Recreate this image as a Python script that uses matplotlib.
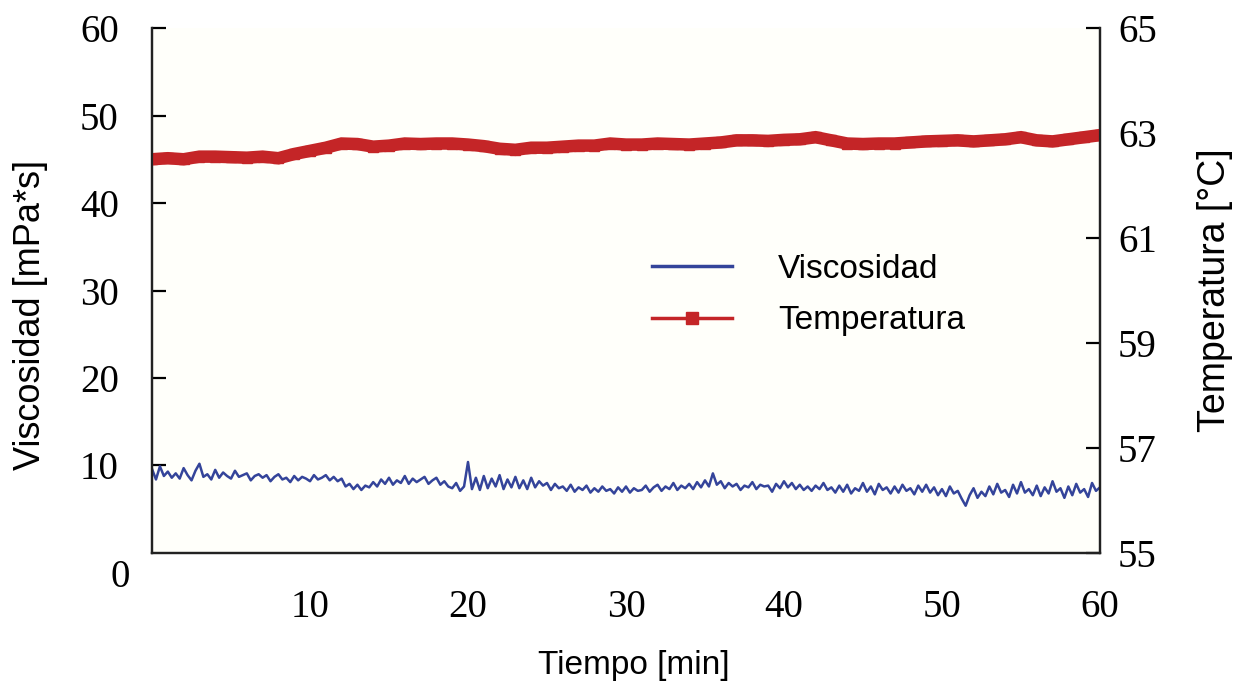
import matplotlib
matplotlib.use("Agg")
import matplotlib.pyplot as plt
import numpy as np

# Tiempo [min] for each series
temp_time = list(range(0, 61))
temperatura = [62.50, 62.52, 62.50, 62.55, 62.55, 62.54, 62.53, 62.55, 62.52, 62.60,
               62.66, 62.72, 62.80, 62.79, 62.74, 62.76, 62.80, 62.79, 62.80, 62.80,
               62.78, 62.75, 62.70, 62.68, 62.72, 62.72, 62.74, 62.76, 62.76, 62.80,
               62.78, 62.78, 62.80, 62.79, 62.78, 62.80, 62.82, 62.86, 62.86, 62.85,
               62.87, 62.88, 62.92, 62.86, 62.80, 62.79, 62.80, 62.80, 62.82, 62.84,
               62.85, 62.86, 62.84, 62.86, 62.88, 62.92, 62.86, 62.84, 62.88, 62.92,
               62.96]

# viscosity sampled every 0.25 min
visc_time = [i / 4 for i in range(241)]
viscosidad = [
    9.6, 8.4, 9.9, 8.8, 9.3, 8.6, 9.1, 8.5, 9.7, 8.9, 8.3, 9.4,
    10.2, 8.7, 9.0, 8.4, 9.5, 8.6, 9.2, 8.8, 8.5, 9.4, 8.7, 8.9,
    9.1, 8.3, 8.8, 9.0, 8.6, 8.9, 8.2, 8.7, 9.0, 8.4, 8.6, 8.1,
    8.8, 8.3, 8.7, 8.5, 8.2, 8.9, 8.4, 8.6, 8.9, 8.3, 8.7, 8.2,
    8.5, 7.6, 7.9, 7.3, 7.8, 7.2, 7.7, 7.5, 8.1, 7.6, 8.4, 7.9,
    8.6, 7.8, 8.3, 8.0, 8.8, 7.9, 8.5, 8.1, 8.4, 8.7, 7.9, 8.3,
    8.6, 7.8, 8.2, 7.6, 7.4, 8.0, 7.1, 7.6, 10.4, 7.3, 8.6, 7.2,
    8.8, 7.4, 8.5, 7.6, 8.9, 7.3, 8.4, 7.5, 8.7, 7.4, 8.3, 7.3,
    8.6, 7.5, 8.2, 7.7, 8.0, 7.2, 7.9, 7.4, 7.6, 7.1, 7.8, 7.0,
    7.5, 7.2, 7.7, 6.9, 7.4, 7.0, 7.6, 7.1, 7.3, 6.8, 7.5, 7.0,
    7.6, 6.9, 7.4, 7.1, 7.2, 7.7, 7.0, 7.5, 7.8, 7.1, 7.6, 7.3,
    8.0, 7.2, 7.7, 7.4, 7.9, 7.3, 8.1, 7.5, 8.3, 7.6, 9.1, 7.8,
    8.2, 7.4, 8.0, 7.6, 7.9, 7.2, 7.7, 7.5, 8.1, 7.3, 7.8, 7.6,
    7.7, 7.0, 7.9, 7.4, 8.2, 7.5, 8.0, 7.3, 7.8, 7.2, 7.6, 7.1,
    7.7, 7.3, 8.0, 7.2, 7.5, 6.9, 7.7, 7.0, 7.8, 6.8, 7.4, 7.1,
    8.0, 7.0, 7.6, 6.7, 7.9, 7.2, 7.5, 6.8, 7.6, 6.9, 7.8, 7.1,
    7.4, 6.7, 7.7, 7.0, 7.8, 6.9, 7.5, 6.6, 7.3, 6.5, 7.6, 6.8,
    7.1, 6.2, 5.4, 6.6, 7.4, 6.3, 7.0, 6.5, 7.6, 6.7, 7.9, 6.9,
    7.2, 6.4, 7.8, 6.8, 8.1, 6.9, 7.3, 6.6, 7.7, 6.5, 7.5, 6.8,
    8.2, 7.0, 7.4, 6.3, 7.6, 6.6, 7.9, 6.9, 7.3, 6.4, 8.0, 7.1,
    7.5]

x_ticks = [10, 20, 30, 40, 50, 60]
left_ticks = [10, 20, 30, 40, 50, 60]
right_ticks = [55, 57, 59, 61, 63, 65]

blue = '#34449a'
red = '#c42527'
serif = 'Liberation Serif'
sans = 'Liberation Sans'

fig = plt.figure(figsize=(12.37, 6.92), dpi=100)
ax = fig.add_axes([0.1229, 0.2009, 0.7663, 0.7586])
ax.set_facecolor('#fffffa')
ax2 = ax.twinx()

l1, = ax.plot(visc_time, viscosidad, color=blue, lw=1.8, label='Viscosidad')
l2, = ax2.plot(temp_time, temperatura, color=red, lw=9, marker='s', markersize=7,
               label='Temperatura', solid_joinstyle='miter')

ax.set_xlim(0, 60)
ax.set_ylim(0, 60)
ax2.set_ylim(55, 65)

ax.set_xticks(x_ticks)
ax.set_yticks(left_ticks)
ax2.set_yticks(right_ticks)

for a in (ax, ax2):
    a.spines['top'].set_visible(False)
    for s in a.spines.values():
        s.set_linewidth(1.6)
        s.set_color('#222222')

ax.tick_params(axis='x', length=0, pad=26, labelsize=28)
ax.tick_params(axis='y', direction='in', length=10, width=1.6, pad=24, labelsize=28)
ax2.tick_params(axis='y', direction='in', length=10, width=1.6, pad=13, labelsize=28)
for lab in ax.get_xticklabels() + ax.get_yticklabels() + ax2.get_yticklabels():
    lab.set_fontfamily(serif)

# lone zero at the lower left corner
ax.text(-0.034, -0.046, '0', transform=ax.transAxes, ha='center', va='center',
        fontsize=28, fontfamily=serif)

fig.text(0.512, 0.039, 'Tiempo [min]', ha='center', va='center', fontsize=24, fontfamily=sans)
fig.text(0.025, 0.545, 'Viscosidad [mPa*s]', rotation=90, ha='center', va='center',
         fontsize=26, fontfamily=sans)
fig.text(0.982, 0.58, 'Temperatura [°C]', rotation=90, ha='center', va='center',
         fontsize=27, fontfamily=sans)

leg = ax.legend(handles=[l1, l2], loc='upper left', bbox_to_anchor=(0.527, 0.57),
                frameon=False, prop={'family': sans, 'size': 24},
                handlelength=2.4, handletextpad=1.4, labelspacing=0.62,
                borderpad=0, borderaxespad=0, markerscale=1.3)
for h in leg.legend_handles:
    h.set_linewidth(2.5)

fig.savefig('out.png', dpi=100)
